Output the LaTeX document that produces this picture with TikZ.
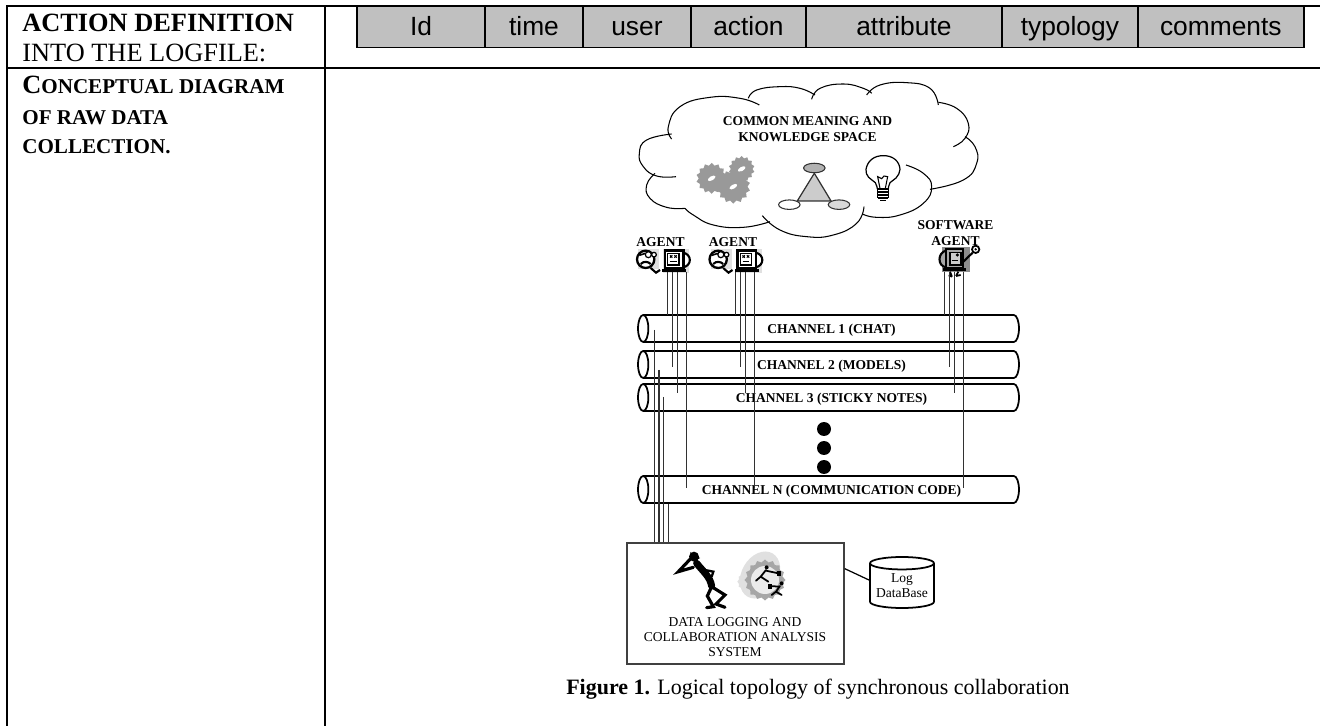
\documentclass[tikz,border=0pt]{standalone}
\usepackage{fontspec}
\setmainfont{Liberation Serif}
\newfontfamily\arialfont{Liberation Sans}
\usepackage{xcolor}
\usetikzlibrary{positioning, calc, shapes.geometric}
\definecolor{headgray}{RGB}{192, 192, 192}
\definecolor{wiregray}{RGB}{50, 50, 50}
\newcommand{\bigtext}{\fontsize{15}{18}\selectfont}
\newcommand{\capstext}{\fontsize{12}{14}\selectfont\bfseries}
\newcommand{\tinybold}{\fontsize{7.7}{9.3}\selectfont\bfseries}
\newcommand{\tinyplain}{\fontsize{7.7}{8.5}\selectfont}
\tikzset{
    rule/.style={line width=1.1pt},
    wire/.style={draw=wiregray, line width=0.7pt},
    headcell/.style={draw, line width=0.9pt, fill=headgray, outer sep=0pt, inner sep=0pt, minimum height=0.82cm,
        text height=12.7pt, text depth=3pt, font=\arialfont\fontsize{15}{18}\selectfont},
    lefttext/.style={anchor=base west, inner sep=0pt, font=\bigtext},
    channel/.style={draw, line width=1pt, fill=white, cylinder, shape border rotate=180, aspect=1.1, inner sep=0pt,
        minimum height=7.62cm, minimum width=0.54cm, text depth=0pt, font=\tinybold},
    dotnode/.style={circle, fill=black, inner sep=0pt, minimum size=0.28cm},
    boldlabel/.style={inner sep=0pt, font=\tinybold},
    roleoval/.style={ellipse, draw=wiregray, line width=0.6pt, inner sep=0pt, minimum width=0.43cm, minimum height=0.19cm},
    gear/.style={star, star points=14, star point ratio=1.2, fill=black!40, inner sep=0pt},
    gearhole/.style={ellipse, fill=white, inner sep=0pt, minimum width=0.17cm, minimum height=0.08cm, rotate=30},
    cloudline/.style={line width=0.6pt},
    agentpic/.pic={
        \fill[black!12] (25,58) rectangle (88,118);
        \fill[black!12] (100,57) rectangle (178,128);
        \draw[line width=1.3pt, fill=white] (47,88) circle (26);
        \draw[line width=0.7pt, fill=white] (55,74) circle (9);
        \draw[line width=0.7pt, fill=white] (72,74) circle (7);
        \draw[line width=0.9pt] (28,76) -- (46,70);
        \draw[line width=1.2pt] (32,102) .. controls (42,92) and (55,95) .. (62,102);
        \draw[line width=1.2pt] (62,114) -- (78,128) -- (90,120);
        \draw[line width=1.2pt, fill=white] (160,68) .. controls (186,74) and (186,106) .. (160,112);
        \draw[line width=1.4pt, fill=white] (105,62) rectangle (160,116);
        \draw[line width=0.6pt] (113,70) rectangle (147,105);
        \draw[line width=0.6pt] (120,76) -- (127,83) (127,76) -- (120,83) (133,76) -- (140,83) (140,76) -- (133,83);
        \draw[line width=0.8pt] (120,95) -- (140,95);
        \fill[black] (97,116) rectangle (168,125);
    },
    softpic/.pic={
        \fill[black!45] (125,110) rectangle (210,187);
        \draw[line width=1.2pt, fill=black!35] (138,122) .. controls (112,128) and (112,168) .. (138,172);
        \draw[line width=1.2pt, fill=black!35] (138,118) rectangle (190,175);
        \draw[line width=0.7pt, fill=black!20] (150,128) rectangle (183,165);
        \draw[line width=0.8pt] (155,152) -- (175,152);
        \draw[line width=0.6pt] (172,135) circle (3);
        \fill[black] (130,175) rectangle (197,183);
        \draw[line width=1pt] (150,185) -- (156,200) (146,196) -- (156,200) (175,185) -- (168,198) (168,198) -- (182,195);
        \draw[line width=1.2pt] (190,155) -- (218,128);
        \draw[line width=1pt, fill=white] (227,118) circle (11);
        \fill[black] (227,118) circle (4);
    }
}

\begin{document}
\begin{tikzpicture}[x=0.02cm, y=-0.02cm]
        \useasboundingbox (0,0) rectangle (1320,726);

        \draw[rule] (6.7,726) -- (6.7,6) -- (1320,6);
        \draw[rule] (325,6) -- (325,726);
        \draw[rule] (6.7,68.3) -- (1320,68.3);

        \node[lefttext] (titleA) at (22,31.7) {\bfseries ACTION DEFINITION};
        \node[lefttext] (titleB) at (22,61.7) {INTO THE LOGFILE:};
        \node[lefttext] (titleC) at (22,94) {\bfseries C{\capstext ONCEPTUAL DIAGRAM}};
        \node[lefttext] (titleD) at (22,125) {\capstext OF RAW DATA};
        \node[lefttext] (titleE) at (22,154) {\capstext COLLECTION.};

        \node[headcell, anchor=north west, minimum width=2.56cm] (cellId) at (357,6.5) {Id};
        \node[headcell, right=0pt of cellId, minimum width=1.96cm] (cellTime) {time};
        \node[headcell, right=0pt of cellTime, minimum width=2.16cm] (cellUser) {user};
        \node[headcell, right=0pt of cellUser, minimum width=2.30cm] (cellAction) {action};
        \node[headcell, right=0pt of cellAction, minimum width=3.92cm] (cellAttribute) {attribute};
        \node[headcell, right=0pt of cellAttribute, minimum width=2.72cm] (cellTypology) {typology};
        \node[headcell, right=0pt of cellTypology, minimum width=3.32cm] (cellComments) {comments};

        \begin{scope}[shift={(600,70)}, scale=1/3]
            \draw[cloudline] plot[smooth, tension=0.8] coordinates {(215,207) (205,170) (240,110) (330,82) (420,85) (478,105)};
            \draw[cloudline] plot[smooth, tension=0.8] coordinates {(445,85) (470,60) (540,50) (600,55) (645,75)};
            \draw[cloudline] plot[smooth, tension=0.8] coordinates {(635,88) (660,55) (730,42) (790,55) (815,70)};
            \draw[cloudline] plot[smooth, tension=0.8] coordinates {(800,75) (840,45) (920,38) (990,55) (1015,105)};
            \draw[cloudline] plot[smooth, tension=0.8] coordinates {(1015,97) (1070,115) (1105,160) (1095,205) (1060,230)};
            \draw[cloudline] plot[smooth, tension=0.8] coordinates {(1095,200) (1125,230) (1130,280) (1090,330) (990,358)};
            \draw[cloudline] plot[smooth, tension=0.8] coordinates {(918,285) (970,310) (995,350) (970,400) (900,435) (830,442) (787,432)};
            \draw[cloudline] plot[smooth, tension=0.8] coordinates {(792,410) (770,460) (700,495) (620,500) (540,480) (487,437)};
            \draw[cloudline] plot[smooth, tension=0.8] coordinates {(510,455) (430,472) (340,465) (280,435) (255,415)};
            \draw[cloudline] plot[smooth, tension=0.8] coordinates {(255,415) (200,412) (150,385) (140,345) (165,310)};
            \draw[cloudline] plot[smooth, tension=0.8] coordinates {(228,320) (170,318) (130,290) (118,250) (140,210) (215,192)};

            \foreach \gearname/\gx/\gy/\gsize in {gearA/335/325/0.62, gearB/425/297/0.52, gearC/400/350/0.68} {
                \node[gear, minimum size=\gsize cm] (\gearname) at (\gx,\gy) {};
                \node[gearhole] (\gearname hole) at (\gearname.center) {};
            }

            \node[roleoval, fill=black!30] (roleTop) at (643,294) {};
            \node[roleoval, fill=white] (roleLeft) at (568,404) {};
            \node[roleoval, fill=black!15] (roleRight) at (717,404) {};
            \draw[draw=wiregray, line width=0.7pt, fill=black!20] (roleTop.south) -- (roleRight.north west) -- (roleLeft.north east) -- cycle;

            \draw[line width=0.7pt] plot[smooth, tension=0.7] coordinates {(832,357) (826,338) (806,322) (798,298) (815,268) (850,257) (885,268) (900,298) (888,324) (870,338) (865,357)};
            \draw[line width=0.6pt] (832,357) -- (865,357) (833,366) -- (865,366) (833,375) -- (865,375) (833,384) -- (865,384) (833,357) -- (833,384) (865,357) -- (865,384) (840,392) -- (858,392);
            \draw[line width=0.6pt] (840,355) -- (833,320) -- (845,326) -- (852,318) -- (863,320) -- (856,355);
        \end{scope}

        \node[boldlabel, align=center] (spaceLabel) at (807.5,129) {COMMON MEANING AND\\KNOWLEDGE SPACE};

        \pic[scale=1/3] at (630,230) {agentpic};
        \pic[scale=1/3] at (702.5,230) {agentpic};
        \pic[scale=1/3] at (900,210) {softpic};
        \node[boldlabel, anchor=base] (agentA) at (660.5,247) {AGENT};
        \node[boldlabel, anchor=base] (agentB) at (733,247) {AGENT};
        \node[boldlabel, align=center] (softAgent) at (955.5,233) {SOFTWARE\\AGENT};

        \node[channel, anchor=shape center] (chanA) at (828.5,328.5) {CHANNEL 1 (CHAT)};
        \node[channel, anchor=shape center] (chanB) at (828.5,364.5) {CHANNEL 2 (MODELS)};
        \node[channel, anchor=shape center] (chanC) at (828.5,397.5) {CHANNEL 3 (STICKY NOTES)};
        \node[channel, anchor=shape center] (chanN) at (828.5,489.5) {CHANNEL N (COMMUNICATION CODE)};

        \node[dotnode] (dotA) at (824,429) {};
        \node[dotnode] (dotB) at (824,448) {};
        \node[dotnode] (dotC) at (824,467) {};

        \node[draw=black!75, line width=0.8pt, minimum width=4.34cm, minimum height=2.42cm, inner sep=0pt] (logbox) at (735.5,603.5) {};
        \node[inner sep=0pt, align=center, font=\tinyplain] (logtext) at (735,637) {DATA LOGGING AND\\COLLABORATION ANALYSIS\\SYSTEM};
        \node[draw, line width=1pt, cylinder, shape border rotate=90, aspect=0.24, inner sep=0pt, minimum width=1.28cm, minimum height=1.02cm, align=center, font=\tinyplain, anchor=shape center] (logdb) at (902,582.5) {Log\\DataBase};
        \draw[line width=0.7pt] ($(logbox.north east)!0.215!(logbox.south east)$) -- ([yshift=3.4pt]logdb.west);

        \coordinate (tapA) at (667.7,272);
        \coordinate (tapB) at (735.7,272);
        \coordinate (tapC) at (944.7,272);
        \coordinate (stopA) at (0,315);
        \coordinate (stopB) at (0,367);
        \coordinate (stopC) at (0,393);
        \coordinate (stopN) at (0,488);
        \foreach \tap in {tapA, tapB, tapC} {
            \foreach \dx/\stop in {0/stopA, 4.8/stopB, 9.8/stopC, 18.5/stopN} {
                \coordinate (top) at ($(\tap)+(\dx,0)$);
                \draw[wire] (top) -- (top |- \stop);
            }
        }
        \foreach \lx/\ly in {654.3/330, 659/370, 663.3/397, 668.3/504} {
            \coordinate (feed) at (\lx,\ly);
            \draw[wire] (feed) -- (feed |- logbox.north);
        }

        \begin{scope}[shift={(670,530)}, scale=1/3]
            \fill[black] (72,80) circle (15);
            \fill[black] (60,66) -- (90,84) -- (80,90) -- cycle;
            \draw[line width=4pt, line cap=round] (80,100) .. controls (100,125) and (120,140) .. (125,168);
            \draw[line width=1.8pt, line cap=round] (60,88) -- (25,125) -- (70,112);
            \draw[line width=1.3pt, line cap=round] (95,118) -- (130,125) -- (125,140);
            \draw[line width=1.8pt, line cap=round] (125,170) -- (112,198) -- (130,230) -- (110,233);
            \draw[line width=1.8pt, line cap=round] (125,170) -- (165,195) -- (138,222) -- (165,232);

            \fill[black!12, rotate around={-30:(270,135)}] (270,135) ellipse (55 and 75);
            \node[star, star points=12, star point ratio=1.15, fill=black!12, inner sep=0pt, minimum size=0.4cm] (gearSmall) at (232,155) {};
            \node[star, star points=16, star point ratio=1.15, fill=black!35, inner sep=0pt, minimum size=0.82cm] (gearBig) at (285,150) {};
            \node[circle, fill=black!8, inner sep=0pt, minimum size=0.56cm] (gearCore) at (285,150) {};
            \fill[black] (290,112) circle (6);
            \draw[line width=1pt, line cap=round] (288,120) -- (272,140) -- (258,152) (272,140) -- (295,155) (288,122) -- (325,130);
            \fill[black] (320,122) rectangle (332,138);
            \fill[black] (335,160) circle (6);
            \draw[line width=1pt, line cap=round] (330,168) -- (318,185) -- (305,195) (318,185) -- (335,195) (328,170) -- (300,168);
            \fill[black] (295,162) rectangle (307,176);
        \end{scope}

        \node[anchor=base, inner sep=0pt, font=\fontsize{12.5}{15}\selectfont] (caption) at (818,694) {\textbf{Figure 1.} Logical topology of synchronous collaboration};
    \end{tikzpicture}
\end{document}
